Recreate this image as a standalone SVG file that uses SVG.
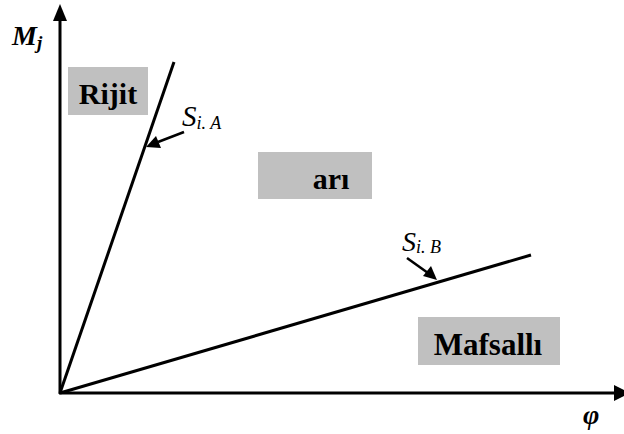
<svg xmlns="http://www.w3.org/2000/svg" width="624" height="434" viewBox="0 0 624 434">
<style>
.ax{stroke:#000;stroke-width:3;fill:none}
.ln{stroke:#000;stroke-width:3;fill:none}
.ptr{stroke:#000;stroke-width:2.5;fill:none}
.head{fill:#000}
.box{fill:#c0c0c0}
text{font-family:'Liberation Serif','Times New Roman',serif;fill:#000}
.lbl{font-weight:bold;font-size:30px}
.sym{font-style:italic}
</style>
<rect width="624" height="434" fill="#fff"/>
<g id="connectors">
<line class="ax" x1="60" y1="394" x2="60" y2="18"/>
<polygon class="head" points="60,4 53,21 67,21"/>
<line class="ax" x1="59" y1="393" x2="614" y2="393"/>
<polygon class="head" points="630,393 614,385 614,401"/>
<line class="ln" x1="60" y1="393" x2="174" y2="62"/>
<line class="ln" x1="60" y1="393" x2="531" y2="255"/>
<line class="ptr" x1="184" y1="132" x2="158" y2="142"/>
<polygon class="head" points="146,147 156,136 161,148"/>
<line class="ptr" x1="407" y1="258" x2="428" y2="273"/>
<polygon class="head" points="437,280 423,276 431,266"/>
</g>
<g id="rijit">
<rect class="box" x="68" y="67" width="80" height="48"/>
<text class="lbl" x="108" y="104" text-anchor="middle">Rijit</text>
</g>
<g id="ari">
<rect class="box" x="258" y="152" width="114" height="47"/>
<text class="lbl" x="331" y="189" text-anchor="middle">arı</text>
</g>
<g id="mafsalli">
<rect class="box" x="418" y="317" width="142" height="48"/>
<text class="lbl" x="488" y="355" text-anchor="middle" style="font-size:31px">Mafsallı</text>
</g>
<g id="label-mj">
<text class="sym" x="12" y="45" font-size="28" font-weight="bold">M<tspan font-size="19" dy="4">j</tspan></text>
</g>
<g id="label-phi">
<text class="sym" x="583" y="424" font-size="28" font-weight="bold">φ</text>
</g>
<g id="label-sia">
<text class="sym" x="182" y="126" font-size="29">S<tspan font-size="18" dy="3">i. A</tspan></text>
</g>
<g id="label-sib">
<text class="sym" x="402" y="251" font-size="28">S<tspan font-size="18" dy="2">i. B</tspan></text>
</g>
</svg>
